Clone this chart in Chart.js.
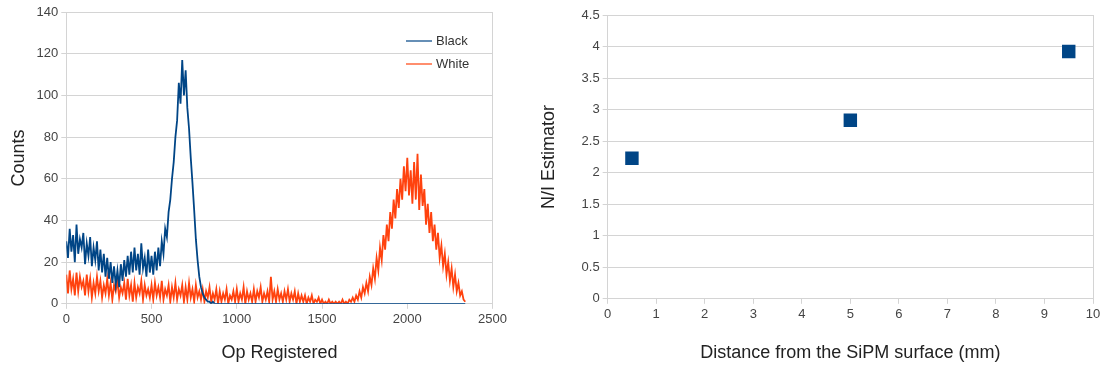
<!DOCTYPE html>
<html>
<head>
<meta charset="utf-8">
<script src="https://cdn.jsdelivr.net/npm/chart.js@4/dist/chart.umd.min.js"></script>
<style>
  body { margin: 0; background: #fff; width: 1105px; height: 371px; overflow: hidden; }
  #left { position: absolute; left: 0; top: 0; width: 510px; height: 371px; }
  #right { position: absolute; left: 530px; top: 0; width: 575px; height: 371px; }
</style>
</head>
<body>
<div id="left"><canvas id="histChart"></canvas></div>
<div id="right"><canvas id="niChart"></canvas></div>
<script>
// Histogram bins (Op Registered), 10 units wide
const binWidth = 10;
const binCount = 235;
const opBins = Array.from({ length: binCount }, (_, i) => i * binWidth);

const blackCounts = [
    30, 22, 36, 25, 33, 20, 38, 24, 31, 27,
    34, 19, 29, 23, 32, 18, 27, 21, 30, 16,
    26, 15, 24, 13, 22, 12, 20, 10, 18, 9,
    16, 8, 19, 11, 21, 13, 23, 14, 25, 15,
    27, 16, 24, 14, 29, 17, 22, 13, 26, 15,
    23, 14, 25, 16, 27, 18, 30, 24, 36, 32,
    44, 50, 60, 68, 80, 88, 106, 96, 117, 100,
    112, 94, 84, 70, 58, 45, 31, 21, 13, 8,
    5, 3, 2, 1, 1, 0, 1, 0, 0, 0,
    0, 0, 0, 0, 0, 0, 0, 0, 0, 0,
    0, 0, 0, 0, 0, 0, 0, 0, 0, 0,
    0, 0, 0, 0, 0, 0, 0, 0, 0, 0,
    0, 0, 0, 0, 0, 0, 0, 0, 0, 0,
    0, 0, 0, 0, 0, 0, 0, 0, 0, 0,
    0, 0, 0, 0, 0, 0, 0, 0, 0, 0,
    0, 0, 0, 0, 0, 0, 0, 0, 0, 0,
    0, 0, 0, 0, 0, 0, 0, 0, 0, 0,
    0, 0, 0, 0, 0, 0, 0, 0, 0, 0,
    0, 0, 0, 0, 0, 0, 0, 0, 0, 0,
    0, 0, 0, 0, 0, 0, 0, 0, 0, 0,
    0, 0, 0, 0, 0, 0, 0, 0, 0, 0,
    0, 0, 0, 0, 0, 0, 0, 0, 0, 0,
    0, 0, 0, 0, 0, 0, 0, 0, 0, 0,
    0, 0, 0, 0, 0
];

const whiteCounts = [
    14, 5, 16, 7, 12, 4, 15, 6, 13, 8,
    11, 4, 14, 6, 12, 3, 10, 5, 13, 6,
    11, 3, 9, 5, 12, 4, 10, 2, 9, 6,
    11, 3, 8, 5, 10, 2, 12, 4, 9, 1,
    10, 3, 8, 5, 11, 2, 9, 4, 7, 3,
    9, 2, 10, 4, 8, 3, 11, 2, 7, 4,
    9, 1, 8, 3, 10, 2, 7, 4, 9, 1,
    8, 2, 10, 3, 7, 1, 9, 3, 6, 2,
    7, 1, 6, 3, 8, 1, 5, 2, 7, 0,
    6, 1, 5, 2, 7, 0, 4, 2, 6, 1,
    7, 1, 5, 2, 8, 0, 6, 2, 5, 1,
    7, 1, 6, 3, 8, 1, 5, 2, 6, 1,
    13, 2, 6, 1, 7, 2, 5, 1, 6, 2,
    7, 1, 5, 2, 6, 0, 5, 1, 4, 1,
    4, 0, 3, 1, 4, 0, 2, 1, 3, 0,
    2, 0, 1, 0, 2, 0, 1, 0, 1, 0,
    1, 0, 2, 0, 1, 0, 2, 1, 3, 1,
    4, 2, 6, 3, 8, 5, 10, 6, 13, 9,
    17, 12, 22, 16, 27, 21, 33, 26, 38, 30,
    44, 36, 50, 41, 55, 46, 60, 50, 66, 54,
    70, 52, 64, 48, 68, 50, 72, 45, 62, 47,
    55, 38, 48, 34, 44, 30, 38, 26, 34, 22,
    28, 18, 24, 14, 20, 11, 17, 8, 14, 6,
    10, 4, 6, 2, 1
];

// N/I estimator vs distance
const distances = [0.5, 5, 9.5];
const niValues = [2.23, 2.83, 3.92];

const blue = '#004586';
const orange = '#ff420e';
const gridGray = '#d4d4d4';
const tickGray = '#444444';
const fontFamily = '"Liberation Sans", Arial, sans-serif';

function toPoints(xs, ys) {
    return xs.map((x, i) => ({ x: x, y: ys[i] }));
}

// grid: only the outer right edge and the tick marks on x
function edgeOnly(max) {
    return ctx => (ctx.tick && ctx.tick.value === max) ? gridGray : 'rgba(0,0,0,0)';
}

function plainTick(value) {
    return String(value);
}

const insideLegend = {
    id: 'insideLegend',
    afterDraw(chart) {
        const ctx = chart.ctx;
        ctx.save();
        ctx.font = '13px ' + fontFamily;
        ctx.textBaseline = 'middle';
        chart.data.datasets.forEach((ds, i) => {
            const y = 41 + i * 23;
            ctx.strokeStyle = ds.borderColor;
            ctx.globalAlpha = 0.6;
            ctx.lineWidth = 2;
            ctx.beginPath();
            ctx.moveTo(406, y);
            ctx.lineTo(432, y);
            ctx.stroke();
            ctx.globalAlpha = 1;
            ctx.fillStyle = '#333';
            ctx.fillText(ds.label, 436, y);
        });
        ctx.restore();
    }
};

new Chart(document.getElementById('histChart'), {
    type: 'line',
    data: {
        datasets: [
            {
                label: 'Black',
                data: toPoints(opBins, blackCounts),
                borderColor: blue,
                borderWidth: 1.8,
                pointRadius: 0,
                tension: 0
            },
            {
                label: 'White',
                data: toPoints(opBins, whiteCounts),
                borderColor: orange,
                borderWidth: 1.8,
                pointRadius: 0,
                tension: 0
            }
        ]
    },
    options: {
        animation: false,
        responsive: true,
        maintainAspectRatio: false,
        layout: { padding: { top: 12, right: 14, left: 4, bottom: 3 } },
        plugins: { legend: { display: false }, tooltip: { enabled: false } },
        scales: {
            x: {
                type: 'linear',
                min: 0,
                max: 2500,
                ticks: { stepSize: 500, color: tickGray, font: { family: fontFamily, size: 13 }, callback: plainTick },
                grid: { color: edgeOnly(2500), tickColor: gridGray, tickLength: 5 },
                border: { color: gridGray },
                title: { display: true, text: 'Op Registered', color: '#222', font: { family: fontFamily, size: 18 }, padding: { top: 12 } }
            },
            y: {
                min: 0,
                max: 140,
                ticks: { stepSize: 20, color: tickGray, font: { family: fontFamily, size: 13 }, callback: plainTick },
                grid: { color: gridGray, tickColor: gridGray, tickLength: 5 },
                border: { color: gridGray },
                title: { display: true, text: 'Counts', color: '#222', font: { family: fontFamily, size: 18 }, padding: { bottom: 4 } }
            }
        }
    },
    plugins: [insideLegend]
});

new Chart(document.getElementById('niChart'), {
    type: 'scatter',
    data: {
        datasets: [{
            label: 'N/I Estimator',
            data: toPoints(distances, niValues),
            backgroundColor: blue,
            borderColor: blue,
            pointStyle: 'rect',
            pointRadius: 9.5,
            borderWidth: 0
        }]
    },
    options: {
        animation: false,
        responsive: true,
        maintainAspectRatio: false,
        layout: { padding: { top: 15, right: 12, left: 4, bottom: 3 } },
        plugins: { legend: { display: false }, tooltip: { enabled: false } },
        scales: {
            x: {
                type: 'linear',
                min: 0,
                max: 10,
                ticks: { stepSize: 1, color: tickGray, font: { family: fontFamily, size: 13 }, callback: plainTick },
                grid: { color: edgeOnly(10), tickColor: gridGray, tickLength: 5 },
                border: { color: gridGray },
                title: { display: true, text: 'Distance from the SiPM surface (mm)', color: '#222', font: { family: fontFamily, size: 18 }, padding: { top: 17 } }
            },
            y: {
                min: 0,
                max: 4.5,
                ticks: { stepSize: 0.5, color: tickGray, font: { family: fontFamily, size: 13 }, callback: plainTick },
                grid: { color: gridGray, tickColor: gridGray, tickLength: 5 },
                border: { color: gridGray },
                title: { display: true, text: 'N/I Estimator', color: '#222', font: { family: fontFamily, size: 18 }, padding: { bottom: 19 } }
            }
        }
    }
});
</script>
</body>
</html>
